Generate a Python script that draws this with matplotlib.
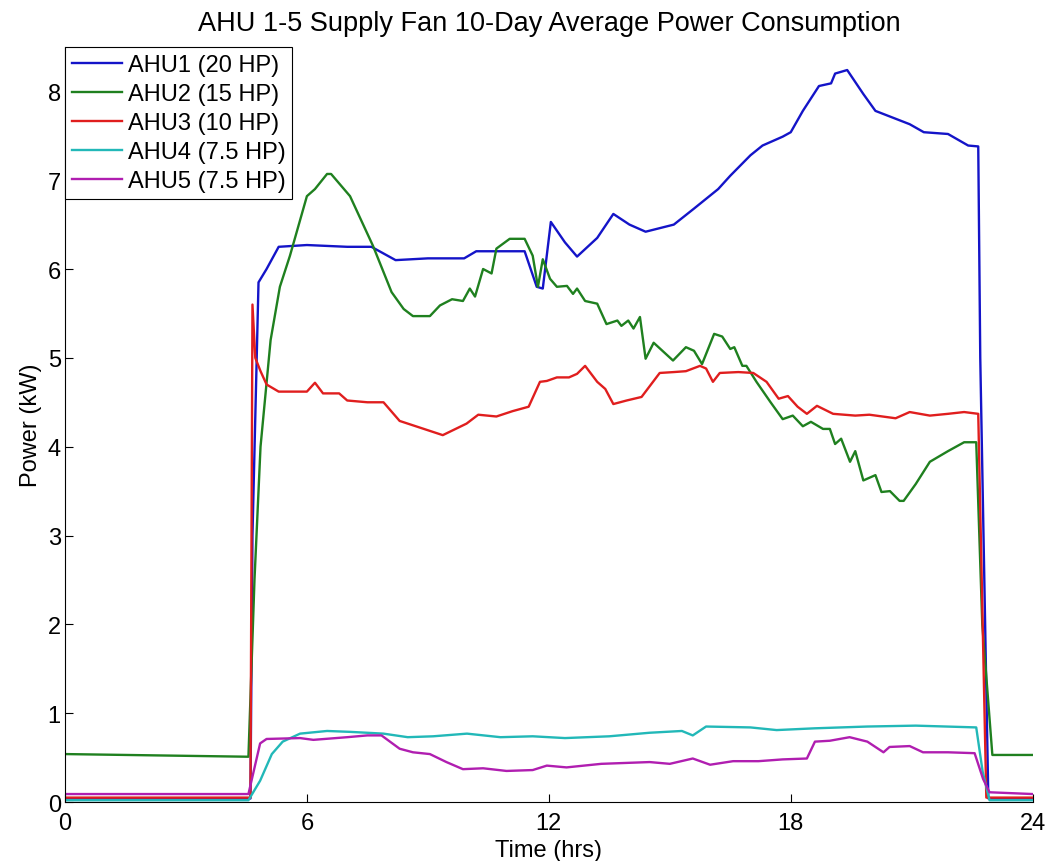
import matplotlib
matplotlib.use("Agg")

import matplotlib.pyplot as plt

plt.rcParams["font.family"] = ["Liberation Sans", "DejaVu Sans"]
plt.rcParams["font.size"] = 17

# 10-day averaged supply fan power, hours of day vs kW
t_ahu1 = [0, 4.6, 4.65, 4.8, 5.0, 5.3, 6.0, 7.0, 7.6, 8.2, 9.0, 9.9, 10.2, 11.0, 11.4,
          11.7, 11.85, 12.05, 12.4, 12.7, 13.2, 13.6, 14.0, 14.4, 15.1, 15.6, 16.2,
          16.5, 17.0, 17.3, 17.8, 18.0, 18.3, 18.7, 19.0, 19.1, 19.4, 19.8, 20.1,
          20.95, 21.3, 21.9, 22.4, 22.65, 22.7, 22.9, 24]
p_ahu1 = [0.04, 0.04, 3.0, 5.85, 6.0, 6.25, 6.27, 6.25, 6.25, 6.1, 6.12, 6.12, 6.2,
          6.2, 6.2, 5.8, 5.78, 6.53, 6.3, 6.14, 6.35, 6.62, 6.5, 6.42, 6.5, 6.68, 6.9,
          7.05, 7.28, 7.39, 7.49, 7.54, 7.78, 8.06, 8.09, 8.2, 8.24, 7.97, 7.78,
          7.63, 7.54, 7.52, 7.39, 7.38, 5.0, 0.04, 0.04]

t_ahu2 = [0, 4.55, 4.7, 4.85, 5.1, 5.33, 5.58, 6.0, 6.2, 6.5, 6.6, 7.07, 7.64, 8.1,
          8.4, 8.63, 9.05, 9.3, 9.6, 9.87, 10.04, 10.17, 10.37, 10.58, 10.7, 11.03,
          11.4, 11.6, 11.73, 11.85, 12.03, 12.2, 12.45, 12.6, 12.7, 12.9, 13.2,
          13.43, 13.7, 13.8, 13.97, 14.1, 14.26, 14.4, 14.6, 15.08, 15.4, 15.6,
          15.8, 16.1, 16.3, 16.5, 16.6, 16.8, 16.9, 17.15, 17.5, 17.8, 18.05, 18.3,
          18.5, 18.8, 18.97, 19.1, 19.25, 19.47, 19.6, 19.8, 20.1, 20.25, 20.46,
          20.7, 20.8, 21.1, 21.45, 21.9, 22.3, 22.6, 22.75, 23.0, 24]
p_ahu2 = [0.54, 0.51, 2.5, 4.0, 5.2, 5.8, 6.15, 6.82, 6.9, 7.07, 7.07, 6.82, 6.26,
          5.74, 5.55, 5.47, 5.47, 5.59, 5.66, 5.64, 5.78, 5.69, 6.0, 5.95, 6.23,
          6.34, 6.34, 6.15, 5.8, 6.11, 5.89, 5.8, 5.81, 5.72, 5.78, 5.64, 5.61,
          5.38, 5.42, 5.36, 5.42, 5.33, 5.46, 4.99, 5.17, 4.97, 5.12, 5.08, 4.93,
          5.27, 5.24, 5.1, 5.12, 4.91, 4.91, 4.73, 4.5, 4.31, 4.35, 4.23, 4.28,
          4.2, 4.2, 4.03, 4.09, 3.83, 3.95, 3.62, 3.68, 3.49, 3.5, 3.39, 3.39,
          3.58, 3.83, 3.95, 4.05, 4.05, 2.0, 0.53, 0.53]

t_ahu3 = [0, 4.6, 4.65, 4.72, 4.85, 5.0, 5.3, 6.0, 6.2, 6.4, 6.8, 7.0, 7.5, 7.9,
          8.3, 9.37, 9.96, 10.25, 10.7, 11.1, 11.5, 11.78, 11.95, 12.2, 12.5,
          12.7, 12.9, 13.2, 13.4, 13.6, 13.93, 14.3, 14.75, 15.1, 15.4, 15.75,
          15.9, 16.07, 16.24, 16.7, 17.07, 17.4, 17.7, 17.93, 18.17, 18.4, 18.65,
          19.05, 19.6, 19.95, 20.6, 20.95, 21.45, 21.9, 22.3, 22.65, 22.85, 24]
p_ahu3 = [0.05, 0.05, 5.6, 5.0, 4.85, 4.7, 4.62, 4.62, 4.72, 4.6, 4.6, 4.52, 4.5,
          4.5, 4.29, 4.13, 4.26, 4.36, 4.34, 4.4, 4.45, 4.73, 4.74, 4.78, 4.78,
          4.82, 4.91, 4.73, 4.65, 4.48, 4.52, 4.56, 4.83, 4.84, 4.85, 4.91, 4.88,
          4.73, 4.83, 4.84, 4.83, 4.73, 4.54, 4.57, 4.45, 4.37, 4.46, 4.37, 4.35,
          4.36, 4.32, 4.39, 4.35, 4.37, 4.39, 4.37, 0.05, 0.05]

t_ahu4 = [0, 4.55, 4.84, 5.13, 5.4, 5.83, 6.5, 7.07, 7.9, 8.5, 9.13, 9.97, 10.8,
          11.6, 12.4, 13.5, 14.5, 15.3, 15.57, 15.9, 17.0, 17.65, 18.6, 19.9,
          21.1, 22.6, 22.76, 22.93, 24]
p_ahu4 = [0.02, 0.02, 0.24, 0.54, 0.68, 0.77, 0.8, 0.79, 0.77, 0.73, 0.74, 0.77,
          0.73, 0.74, 0.72, 0.74, 0.78, 0.8, 0.75, 0.85, 0.84, 0.81, 0.83, 0.85,
          0.86, 0.84, 0.34, 0.02, 0.02]

t_ahu5 = [0, 4.55, 4.84, 5.0, 5.83, 6.16, 7.0, 7.5, 7.85, 8.3, 8.63, 9.05, 9.46,
          9.87, 10.37, 10.95, 11.6, 11.95, 12.44, 13.3, 14.5, 15.0, 15.57, 16.0,
          16.57, 17.2, 17.8, 18.4, 18.6, 18.97, 19.46, 19.9, 20.3, 20.45, 20.95,
          21.28, 21.9, 22.56, 22.77, 22.93, 24]
p_ahu5 = [0.09, 0.09, 0.66, 0.71, 0.72, 0.7, 0.73, 0.75, 0.75, 0.6, 0.56, 0.54,
          0.45, 0.37, 0.38, 0.35, 0.36, 0.41, 0.39, 0.43, 0.45, 0.43, 0.49, 0.42,
          0.46, 0.46, 0.48, 0.49, 0.68, 0.69, 0.73, 0.68, 0.56, 0.62, 0.63, 0.56,
          0.56, 0.55, 0.26, 0.11, 0.09]

labels = ["AHU1 (20 HP)", "AHU2 (15 HP)", "AHU3 (10 HP)", "AHU4 (7.5 HP)", "AHU5 (7.5 HP)"]
colors = ["#1414c8", "#1f801f", "#e01e1e", "#22b8b8", "#b01eb0"]
series = [(t_ahu1, p_ahu1), (t_ahu2, p_ahu2), (t_ahu3, p_ahu3),
          (t_ahu4, p_ahu4), (t_ahu5, p_ahu5)]

fig = plt.figure(figsize=(10.53, 8.62), dpi=100)
ax = fig.add_axes([0.0617, 0.0684, 0.919, 0.876])

for (t, p), lab, col in zip(series, labels, colors):
    ax.plot(t, p, color=col, lw=1.7, label=lab)

ax.set_xlim(0, 24)
ax.set_ylim(0, 8.5)
ax.set_xticks([0, 6, 12, 18, 24])
ax.set_yticks(range(0, 9))
ax.tick_params(direction="in", length=6, width=0.8)
ax.tick_params(axis="x", pad=7)
ax.tick_params(axis="y", pad=3)
for side in ("top", "right"):
    ax.spines[side].set_visible(False)
for side in ("left", "bottom"):
    ax.spines[side].set_linewidth(0.8)

ax.set_xlabel("Time (hrs)", labelpad=4)
ax.set_ylabel("Power (kW)", labelpad=4)
ax.set_title("AHU 1-5 Supply Fan 10-Day Average Power Consumption",
             fontsize=19.5, pad=12)

leg = ax.legend(loc="upper left", bbox_to_anchor=(0, 1), borderaxespad=0,
                fancybox=False, framealpha=1, edgecolor="black",
                handlelength=2.1, handletextpad=0.25, labelspacing=0.3,
                borderpad=0.3)
leg.get_frame().set_linewidth(0.8)

fig.savefig("out.png", dpi=100)
